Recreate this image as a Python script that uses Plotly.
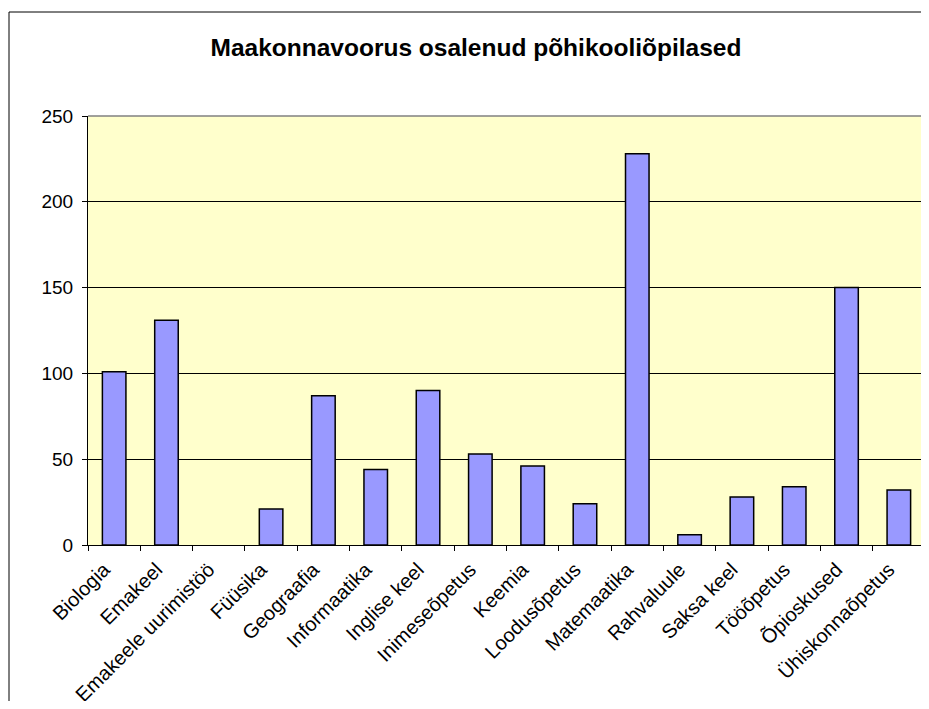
import plotly.graph_objects as go

categories = ["Biologia", "Emakeel", "Emakeele uurimistöö", "Füüsika", "Geograafia",
              "Informaatika", "Inglise keel", "Inimeseõpetus", "Keemia", "Loodusõpetus",
              "Matemaatika", "Rahvaluule", "Saksa keel", "Tööõpetus", "Õpioskused",
              "Ühiskonnaõpetus"]
values = [101, 131, 0, 21, 87, 44, 90, 53, 46, 24, 228, 6, 28, 34, 150, 32]
y_ticks = [0, 50, 100, 150, 200, 250]
title_text = "Maakonnavoorus osalenud põhikooliõpilased"

FONT = "Arial, Liberation Sans, sans-serif"

fig = go.Figure()
fig.add_trace(go.Bar(
    x=categories, y=values,
    marker=dict(color="#9999FF",
                line=dict(color="black", width=[1.5 if v > 0 else 0 for v in values])),
    showlegend=False,
))

# page body has an 8px margin; figure sized so the page does not overflow the window
W, H = 921, 693
L, R, T, B = 80, 4, 108, 156
PW, PH = W - L - R, H - T - B
bx0 = (1 - L) / PW            # outer frame left edge (figure px 1)
by1 = (H - B - 4) / PH        # outer frame top edge (figure px 4)
bx1 = (W - L) / PW            # right edge of figure
by0 = -B / PH                 # bottom edge of figure
fig.update_layout(
    width=W, height=H,
    margin=dict(l=L, r=R, t=T, b=B, autoexpand=False),
    paper_bgcolor="white",
    plot_bgcolor="#FFFFCC",
    bargap=0.55,
    title=dict(text="<b>" + title_text + "</b>", x=468 / W, xref="container",
               y=1 - 39 / H, yref="container", xanchor="center", yanchor="middle",
               font=dict(family=FONT, size=24.5, color="black")),
    xaxis=dict(
        type="category", tickangle=-45, tickson="boundaries",
        ticks="outside", ticklen=5, tickcolor="black", tickwidth=1,
        showline=True, linecolor="black", linewidth=1,
        showgrid=False,
        ticklabelshift=-10, ticklabelstandoff=4,
        tickfont=dict(family=FONT, size=20, color="black"),
    ),
    yaxis=dict(
        range=[0, 250], tickvals=y_ticks,
        ticks="outside", ticklen=5, tickcolor="black", tickwidth=1,
        showline=True, linecolor="black", linewidth=1,
        showgrid=True, gridcolor="black", gridwidth=1,
        zeroline=False,
        ticklabelstandoff=5,
        tickfont=dict(family=FONT, size=19, color="black"),
    ),
    shapes=[
        dict(type="line", xref="paper", yref="paper", x0=0, x1=1, y0=1, y1=1,
             line=dict(color="#808080", width=1.5)),
        dict(type="line", xref="paper", yref="paper", x0=1, x1=1, y0=0, y1=1,
             line=dict(color="#808080", width=1.5)),
        dict(type="line", xref="paper", yref="paper", x0=bx0, x1=bx1, y0=by1, y1=by1,
             line=dict(color="black", width=1)),
        dict(type="line", xref="paper", yref="paper", x0=bx0, x1=bx0, y0=by0, y1=by1,
             line=dict(color="black", width=1)),
    ],
)

fig.write_html("out.html")
